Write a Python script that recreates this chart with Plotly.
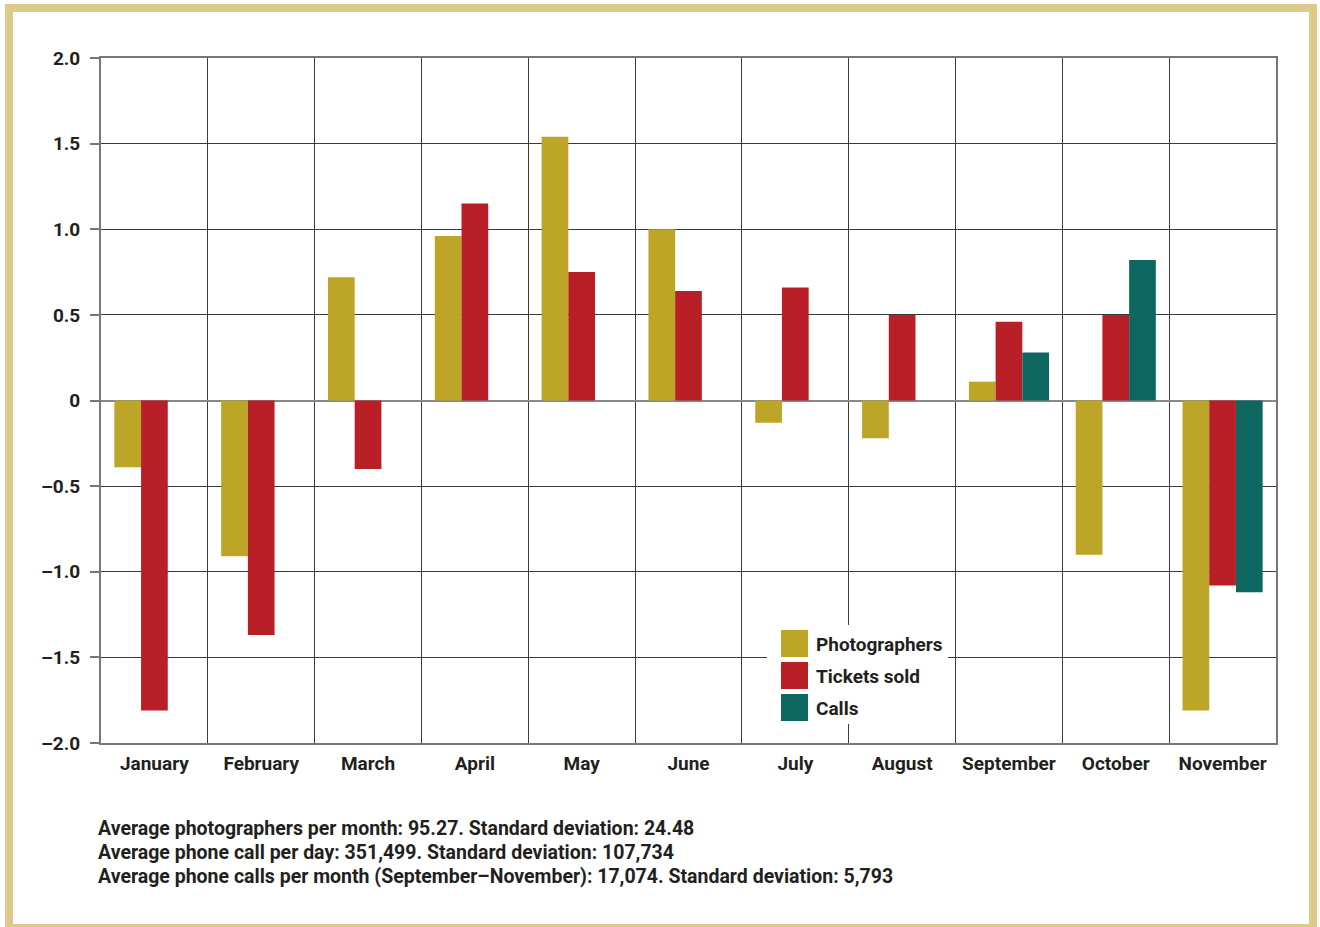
import plotly.graph_objects as go

months = ["January", "February", "March", "April", "May", "June", "July",
          "August", "September", "October", "November"]
photographers = [-0.39, -0.91, 0.72, 0.96, 1.54, 1.00, -0.13, -0.22, 0.11, -0.90, -1.81]
tickets_sold = [-1.81, -1.37, -0.40, 1.15, 0.75, 0.64, 0.66, 0.50, 0.46, 0.50, -1.08]
calls = [None, None, None, None, None, None, None, None, 0.28, 0.82, -1.12]

series_names = ["Photographers", "Tickets sold", "Calls"]
series_colors = ["#bda527", "#b81f27", "#0e6661"]

y_tickvals = [-2.0, -1.5, -1.0, -0.5, 0, 0.5, 1.0, 1.5, 2.0]
y_ticktext = ["\u20132.0", "\u20131.5", "\u20131.0", "\u20130.5", "0", "0.5", "1.0", "1.5", "2.0"]

notes = [
    "Average photographers per month: 95.27. Standard deviation: 24.48",
    "Average phone call per day: 351,499. Standard deviation: 107,734",
    "Average phone calls per month (September\u2013November): 17,074. Standard deviation: 5,793",
]

FONT = "Roboto, Liberation Sans, sans-serif"
TXT = "#231f20"

W, H = 1320, 927
L, R, T, B = 101, 1276, 58, 743


def px(x):
    return (x - L) / (R - L)


def py(y):
    return (B - y) / (B - T)


fig = go.Figure()
for name, vals, col in zip(series_names, [photographers, tickets_sold, calls], series_colors):
    fig.add_trace(go.Bar(x=months, y=vals, name=name, marker=dict(color=col, line=dict(width=0)),
                         showlegend=False))

shapes = []
# outer frame
shapes.append(dict(type="rect", xref="paper", yref="paper",
                   x0=px(9), x1=px(1313), y0=py(8), y1=py(928),
                   line=dict(color="#dccb8a", width=8), fillcolor="rgba(0,0,0,0)", layer="below"))
# legend box
shapes.append(dict(type="rect", xref="paper", yref="paper",
                   x0=px(767), x1=px(948), y0=py(724), y1=py(625),
                   line=dict(width=0), fillcolor="white", layer="above"))
annotations = []
for i, (name, col) in enumerate(zip(series_names, series_colors)):
    top = 630 + i * 32
    shapes.append(dict(type="rect", xref="paper", yref="paper",
                       x0=px(781), x1=px(808), y0=py(top + 27), y1=py(top),
                       line=dict(width=0), fillcolor=col, layer="above"))
    annotations.append(dict(text=name, xref="paper", yref="paper", x=px(814), y=py(top + 14),
                            xanchor="left", yanchor="middle", showarrow=False,
                            font=dict(family=FONT, size=19, color=TXT, weight="bold")))

for i, note in enumerate(notes):
    annotations.append(dict(text=note, xref="paper", yref="paper", x=px(96), y=py(828 + 24 * i),
                            xanchor="left", yanchor="middle", showarrow=False,
                            font=dict(family=FONT, size=19.5, color=TXT, weight="bold")))

fig.update_layout(
    width=W, height=H,
    margin=dict(l=L, r=W - R, t=T, b=H - B, pad=0, autoexpand=False),
    paper_bgcolor="white", plot_bgcolor="white",
    barmode="group", bargap=0.25, bargroupgap=0,
    shapes=shapes, annotations=annotations,
    showlegend=False,
    font=dict(family=FONT, color=TXT),
)
fig.update_xaxes(
    type="category", tickson="boundaries", showgrid=True, gridcolor="#3a3a3a", gridwidth=1,
    showline=True, linecolor="#777777", linewidth=2, mirror=True,
    ticks="", tickangle=0, tickfont=dict(family=FONT, size=19, color=TXT, weight="bold"),
    ticklabelstandoff=2, automargin=False,
)
fig.update_yaxes(
    range=[-2.0, 2.0], tickvals=y_tickvals, ticktext=y_ticktext,
    showgrid=True, gridcolor="#3a3a3a", gridwidth=1,
    zeroline=True, zerolinecolor="#888888", zerolinewidth=2,
    showline=True, linecolor="#777777", linewidth=2, mirror=True,
    ticks="outside", ticklen=9, tickwidth=2, tickcolor="#777777",
    tickfont=dict(family=FONT, size=19, color=TXT, weight="bold"),
    ticklabelstandoff=6, automargin=False,
)

fig.write_html("out.html", config={"displayModeBar": False},
               post_script="document.body.style.margin='0';")
